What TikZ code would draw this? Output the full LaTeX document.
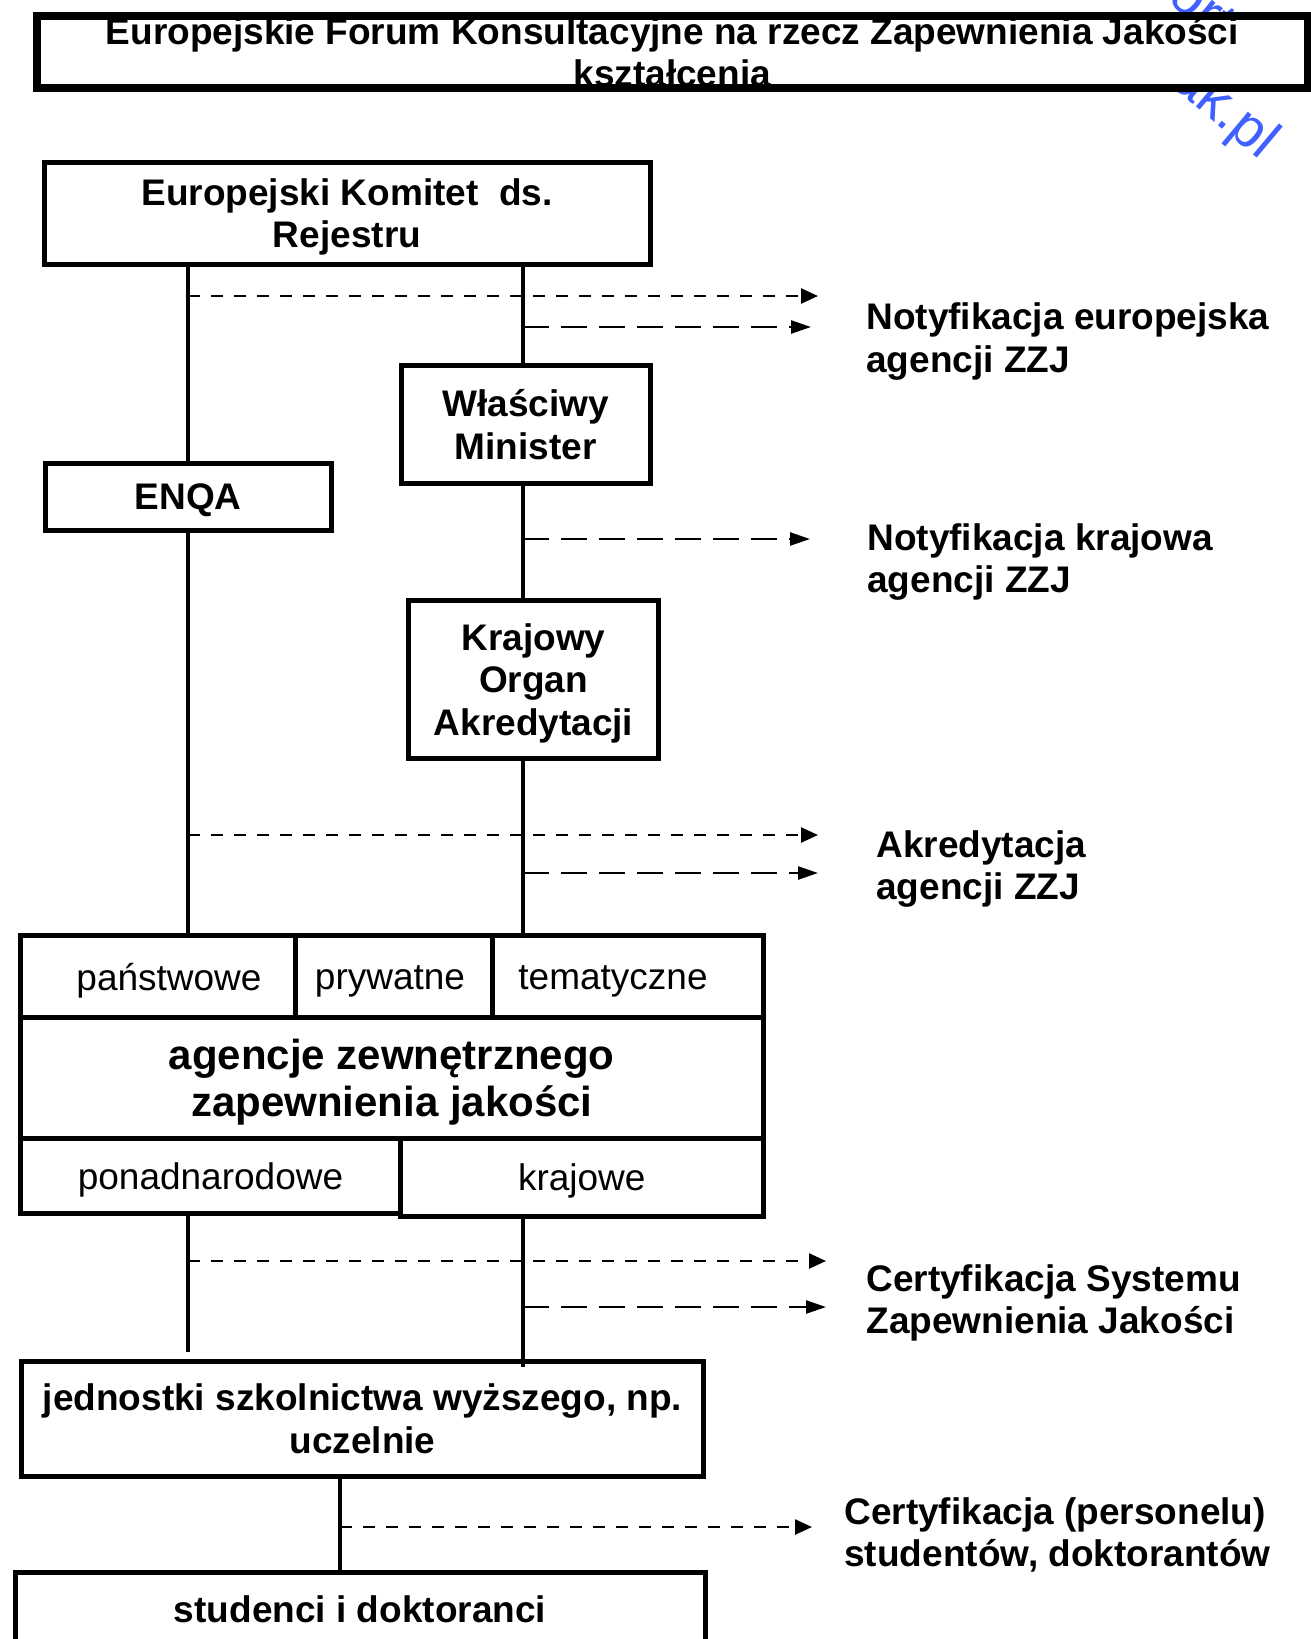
\documentclass[tikz,border=0pt]{standalone}
\usepackage{fontspec}
\setmainfont{Liberation Sans}
\usetikzlibrary{arrows.meta}
\definecolor{wmblue}{RGB}{64,96,255}
\begin{document}
\begin{tikzpicture}[x=0.5pt,y=-0.5pt,
  box/.style={draw, fill=white, line width=2.5pt, inner sep=0pt, align=center,
    text depth=0pt, font=\bfseries\fontsize{18.5}{21.25}\selectfont},
  cell/.style={draw, line width=2.5pt, inner sep=0pt, align=center,
    text depth=0pt, font=\fontsize{18.5}{21.25}\selectfont},
  celltext/.style={inner sep=0pt, font=\fontsize{18.5}{21.25}\selectfont},
  lab/.style={anchor=west, align=left, inner sep=0pt,
    font=\bfseries\fontsize{18.5}{21.25}\selectfont},
  vline/.style={line width=1.75pt},
  sdash/.style={line width=1.25pt, dash pattern=on 6pt off 5.5pt,
    -{Triangle[length=8.5pt,width=7.5pt]}},
  ldash/.style={line width=1.25pt, dash pattern=on 13pt off 6pt,
    -{Triangle[length=10pt,width=6.5pt]}},
  wm/.style={text=wmblue, inner sep=0pt, rotate=-40, font=\fontsize{28}{28}\selectfont}
]
\fill[white] (0,0) rectangle (1311,1639);
\useasboundingbox (0,0) rectangle (1311,1639);

% watermark fragments
\node[wm] (wm1) at (1224,111) {ak.pl};
\node[wm] (wm2) at (1203,8) {ort};

% title (border drawn over the text, as in the reference)
\node[fill=white, inner sep=0pt, align=center, minimum width=634.75pt, minimum height=35.75pt,
  font=\bfseries\fontsize{18.5}{21}\selectfont] (title) at (672.25,52)
  {Europejskie Forum Konsultacyjne na rzecz Zapewnienia Jakości\\kształcenia};
\draw[line width=3.75pt] (title.north west) rectangle (title.south east);

% boxes
\node[box, minimum width=303pt, minimum height=51pt] (komitet) at (347,213)
  {Europejski Komitet\ \ ds.\\Rejestru};
\node[box, minimum width=124.5pt, minimum height=59pt] (minister) at (525.5,424.5)
  {Właściwy\\Minister};
\node[box, minimum width=142.75pt, minimum height=33.25pt] (enqa) at (188.25,496.75)
  {ENQA};
\node[box, minimum width=125pt, minimum height=78.75pt] (krajowy) at (533.5,679.5)
  {Krajowy\\Organ\\Akredytacji};

% agencies block
\node[cell, minimum width=137.25pt, minimum height=41.25pt] (c1) at (157.75,976.25) {};
\node[cell, minimum width=98.5pt, minimum height=41.25pt] (c2) at (393.5,976.25) {};
\node[cell, minimum width=135.5pt, minimum height=41.25pt] (c3) at (627.5,976.25) {};
\node[celltext] (t1) at (169,981) {państwowe};
\node[celltext] (t2) at (390,981) {prywatne};
\node[celltext] (t3) at (613,981) {tematyczne};
\node[cell, minimum width=371.25pt, minimum height=60.5pt,
  font=\bfseries\fontsize{21}{23.5}\selectfont] (c4) at (391.75,1078)
  {agencje zewnętrznego\\zapewnienia jakości};
\node[cell, minimum width=190pt, minimum height=37.5pt] (c5) at (210.5,1176)
  {ponadnarodowe};
\node[cell, minimum width=181.25pt, minimum height=38.75pt] (c6) at (581.75,1177.25)
  {krajowe};

\node[box, minimum width=341pt, minimum height=57.5pt] (jedn) at (362.5,1418.5)
  {jednostki szkolnictwa wyższego, np.\\uczelnie};
\node[box, minimum width=345pt, minimum height=37.5pt] (stud) at (360,1609.5)
  {studenci i doktoranci};

% side labels
\node[lab] (l1) at (866,341.5) {Notyfikacja europejska\\agencji ZZJ};
\node[lab] (l2) at (867,562) {Notyfikacja krajowa\\agencji ZZJ};
\node[lab] (l3) at (876,869) {Akredytacja\\agencji ZZJ};
\node[lab] (l4) at (866,1303) {Certyfikacja Systemu\\Zapewnienia Jakości};
\node[lab] (l5) at (844,1535) {Certyfikacja (personelu)\\studentów, doktorantów};

% vertical connectors
\coordinate (L) at (188,0);
\coordinate (R) at (523,0);
\coordinate (M) at (340,0);
\coordinate (lend) at (188,1352);
\coordinate (rend) at (523,1367);
\draw[vline] (komitet.south -| L) -- (enqa.north -| L);
\draw[vline] (enqa.south -| L) -- (c1.north -| L);
\draw[vline] (c5.south -| L) -- (lend);
\draw[vline] (komitet.south -| R) -- (minister.north -| R);
\draw[vline] (minister.south -| R) -- (krajowy.north -| R);
\draw[vline] (krajowy.south -| R) -- (c3.north -| R);
\draw[vline] (c6.south -| R) -- (rend);
\draw[vline] (jedn.south -| M) -- (stud.north -| M);

% dashed arrows
\coordinate (a1s) at (188,296);  \coordinate (a1e) at (818,296);
\coordinate (a2s) at (523,327);  \coordinate (a2e) at (811,327);
\coordinate (a3s) at (523,539);  \coordinate (a3e) at (810,539);
\coordinate (a4s) at (188,835);  \coordinate (a4e) at (818,835);
\coordinate (a5s) at (523,873);  \coordinate (a5e) at (818,873);
\coordinate (a6s) at (188,1261); \coordinate (a6e) at (826,1261);
\coordinate (a7s) at (523,1307); \coordinate (a7e) at (826,1307);
\coordinate (a8s) at (340,1527); \coordinate (a8e) at (812,1527);
\draw[sdash] (a1s) -- (a1e);
\draw[ldash] (a2s) -- (a2e);
\draw[ldash] (a3s) -- (a3e);
\draw[sdash] (a4s) -- (a4e);
\draw[ldash] (a5s) -- (a5e);
\draw[sdash] (a6s) -- (a6e);
\draw[ldash] (a7s) -- (a7e);
\draw[sdash] (a8s) -- (a8e);
\end{tikzpicture}
\end{document}
